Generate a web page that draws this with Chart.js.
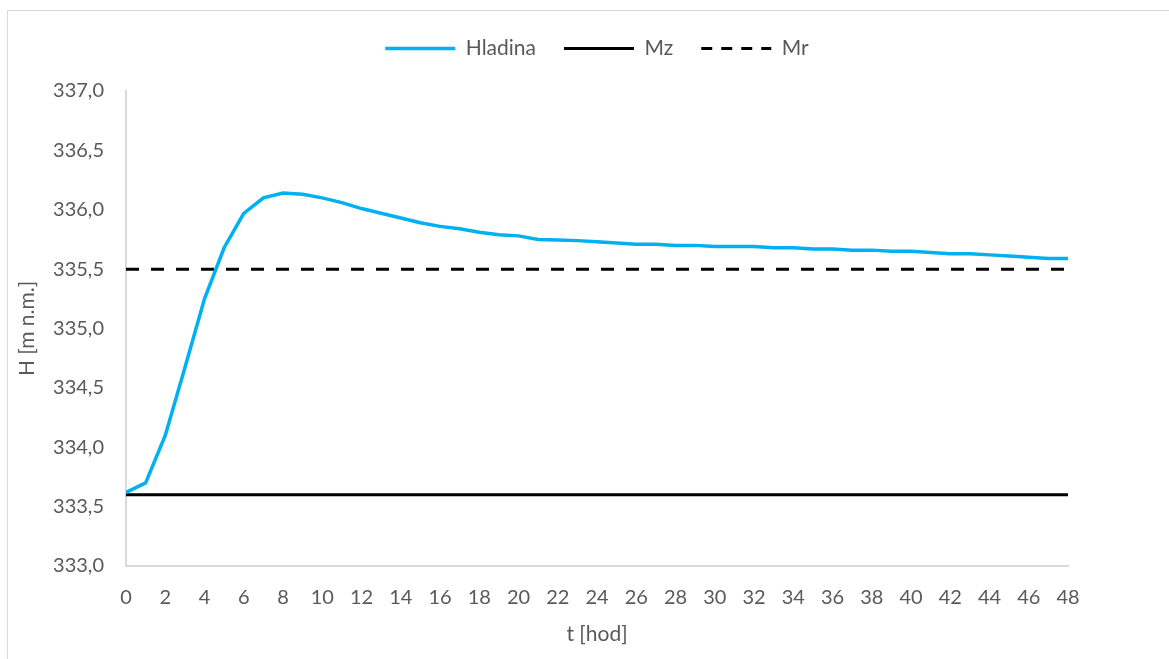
<!DOCTYPE html>
<html>
<head>
<meta charset="utf-8">
<script src="https://cdn.jsdelivr.net/npm/chart.js@4"></script>
<style>
  html, body { margin: 0; padding: 0; background: #fff; overflow: hidden; }
  #ramecek { position: absolute; left: 7px; top: 10px; width: 1170px; height: 660px; border: 1px solid #d9d9d9; }
  #graf { position: absolute; left: 0; top: 0; }
</style>
</head>
<body>
<div id="ramecek"></div>
<canvas id="graf" width="1169" height="659"></canvas>
<script>
// cas [hod]
const casy = [0,1,2,3,4,5,6,7,8,9,10,11,12,13,14,15,16,17,18,19,20,21,22,23,24,
  25,26,27,28,29,30,31,32,33,34,35,36,37,38,39,40,41,42,43,44,45,46,47,48];
// hladina [m n.m.]
const hladina = [333.62,333.70,334.10,334.67,335.25,335.68,335.97,336.10,336.14,336.13,
  336.10,336.06,336.01,335.97,335.93,335.89,335.86,335.84,335.81,335.79,335.78,
  335.75,335.745,335.74,335.73,335.72,335.71,335.71,335.70,335.70,335.69,335.69,
  335.69,335.68,335.68,335.67,335.67,335.66,335.66,335.65,335.65,335.64,335.63,
  335.63,335.62,335.61,335.60,335.59,335.59];
const mzCasy = [0, 48];
const mzHodnoty = [333.6, 333.6];
const mrCasy = [0, 48];
const mrHodnoty = [335.5, 335.5];

const pismo = 'Lato, "Open Sans", sans-serif';
const seda = '#595959';

// vetsi mezera mezi legendou a grafem, legenda vycentrovana nad plochou grafu
const upravaLegendy = {
  id: 'upravaLegendy',
  afterInit(chart) {
    const puvodni = chart.legend.fit;
    chart.legend.fit = function() {
      puvodni.call(this);
      this.height += 22;
    };
  },
  afterLayout(chart) {
    const lg = chart.legend;
    const posun = (chart.chartArea.left + chart.chartArea.right) / 2 - (lg.left + lg.right) / 2;
    lg.left += posun;
    lg.right += posun;
  }
};

new Chart(document.getElementById('graf'), {
  type: 'line',
  data: {
    datasets: [{
      label: 'Hladina',
      data: casy.map((t, i) => ({ x: t, y: hladina[i] })),
      borderColor: '#00b0f0',
      backgroundColor: '#00b0f0',
      borderWidth: 3.5,
      pointRadius: 0,
      tension: 0
    }, {
      label: 'Mz',
      data: mzCasy.map((t, i) => ({ x: t, y: mzHodnoty[i] })),
      borderColor: '#000',
      backgroundColor: '#000',
      borderWidth: 3,
      pointRadius: 0
    }, {
      label: 'Mr',
      data: mrCasy.map((t, i) => ({ x: t, y: mrHodnoty[i] })),
      borderColor: '#000',
      backgroundColor: '#000',
      borderWidth: 3,
      borderDash: [13, 12],
      pointRadius: 0
    }]
  },
  options: {
    responsive: false,
    animation: false,
    devicePixelRatio: 1,
    layout: { padding: { left: 15, right: 101, top: 10, bottom: 12 } },
    plugins: {
      tooltip: { enabled: false },
      legend: {
        position: 'top',
        labels: {
          usePointStyle: true,
          pointStyleWidth: 70,
          boxHeight: 3,
          color: seda,
          padding: 28,
          font: { family: pismo, size: 21 },
          generateLabels: chart => chart.data.datasets.map((ds, i) => ({
            text: ds.label,
            datasetIndex: i,
            fillStyle: ds.borderColor,
            strokeStyle: ds.borderColor,
            lineWidth: ds.borderWidth,
            lineDash: ds.borderDash ? [11, 9] : [],
            pointStyle: 'line',
            fontColor: seda
          }))
        }
      }
    },
    scales: {
      x: {
        type: 'linear',
        min: 0, max: 48,
        grid: { display: false, drawTicks: false },
        border: { display: true, color: '#d9d9d9', width: 2 },
        ticks: { stepSize: 2, color: seda, padding: 20, font: { family: pismo, size: 20 }, maxRotation: 0, autoSkip: false },
        title: { display: true, text: 't [hod]', color: seda, font: { family: pismo, size: 21 }, padding: { top: 0, bottom: 0 } },
        afterFit: s => { s.height = 81; }
      },
      y: {
        min: 333, max: 337,
        grid: { display: false, drawTicks: false },
        border: { display: true, color: '#d9d9d9', width: 2 },
        ticks: {
          stepSize: 0.5, color: seda, padding: 22,
          font: { family: pismo, size: 20 },
          callback: v => v.toFixed(1).replace('.', ',')
        },
        title: { display: true, text: 'H [m n.m.]', color: seda, font: { family: pismo, size: 21 }, padding: { top: 0, bottom: 0 } },
        afterFit: s => { s.width = 111; }
      }
    }
  },
  plugins: [upravaLegendy]
});
</script>
</body>
</html>
